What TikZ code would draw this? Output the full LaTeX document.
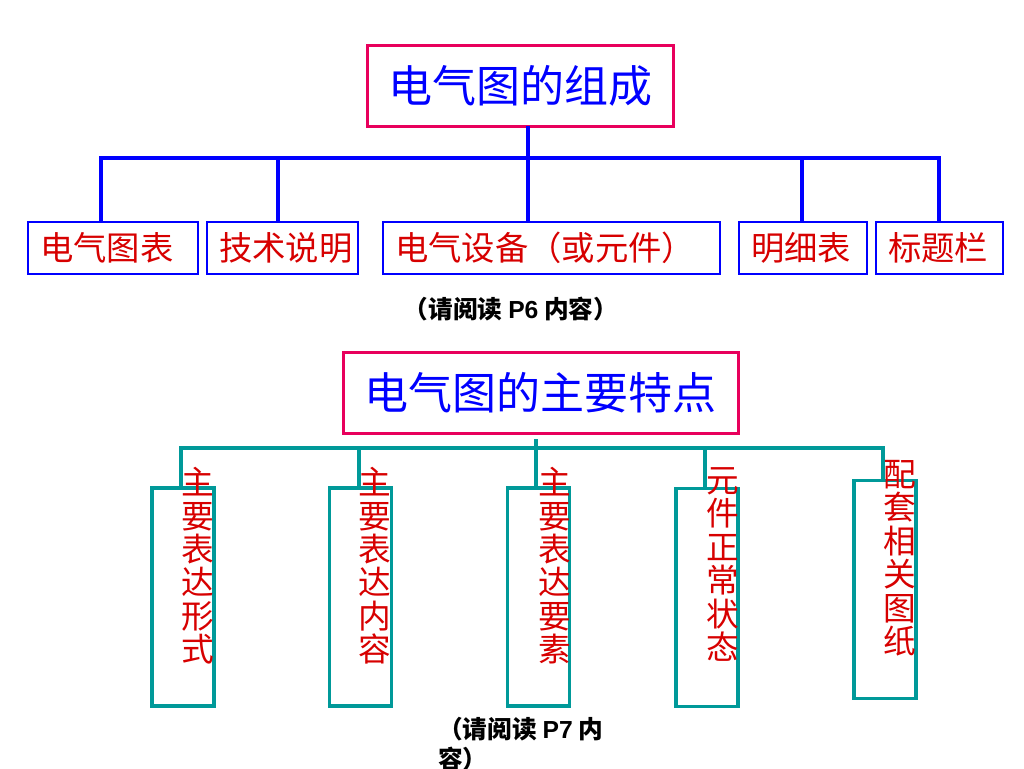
\documentclass[tikz,border=0pt]{standalone}
\usepackage{fontspec}
\setmainfont{Noto Sans CJK SC}
\newfontfamily\latin{Liberation Sans}
\definecolor{headpink}{RGB}{232,0,92}
\definecolor{lineblue}{RGB}{0,0,255}
\definecolor{itemred}{RGB}{215,0,0}
\definecolor{lineteal}{RGB}{0,153,153}
\tikzset{
  headbox/.style={draw=headpink,line width=2.25pt,inner sep=0pt,outer sep=0pt,minimum width=#1,minimum height=60.75pt,text=lineblue,font=\fontsize{33}{36}\selectfont},
  itembox/.style={draw=lineblue,line width=1.5pt,inner xsep=9pt,inner ysep=0pt,outer sep=0pt,minimum height=39pt,text width=#1,align=left,text=itemred,font=\fontsize{25}{28}\selectfont},
  tallbox/.style={draw=lineteal,line width=2.4pt,inner sep=0pt,outer sep=0pt,minimum width=46.5pt,minimum height=163.5pt},
  tallword/.style={anchor=north,inner sep=0pt,align=center,text=itemred,font=\fontsize{24.5}{25.1}\selectfont},
  bluebar/.style={draw=lineblue,line width=3pt},
  tealbar/.style={draw=lineteal,line width=2.4pt},
  note/.style={inner sep=0pt,font=\fontsize{18.5}{22.5}\selectfont\bfseries}
}
\begin{document}
\begin{tikzpicture}[x=0.75pt,y=-0.75pt]
  \useasboundingbox[fill=white] (0,0) rectangle (1024,768);
  \node[headbox=229.5pt] (t1) at (520,85.5) {电气图的组成};
  \node[itembox=109.5pt] (b1) at (113,248) {电气图表};
  \node[itembox=95.25pt] (b2) at (282.5,248) {技术说明};
  \node[itembox=234.75pt] (b3) at (551.5,248) {电气设备（或元件）};
  \node[itembox=78pt] (b4) at (803,248) {明细表};
  \node[itembox=77.25pt] (b5) at (939.5,248) {标题栏};
  \coordinate (top) at (528,158);
  \coordinate (d1) at (101,158);
  \coordinate (d2) at (278,158);
  \coordinate (d3) at (528,158);
  \coordinate (d4) at (802,158);
  \coordinate (d5) at (939,158);
  \draw[bluebar] (top |- t1.south) -- (top);
  \draw[bluebar] (d1 |- b1.north) |- (d5) -- (d5 |- b5.north);
  \foreach \i in {2,3,4}
    \draw[bluebar] (d\i) -- (d\i |- b\i.north);
  \node[note] (n1) at (511,309) {（请阅读 {\latin P6} 内容）};
  \node[headbox=296.25pt] (t2) at (540.5,392.5) {电气图的主要特点};
  \node[tallbox] (c1) at (183,597) {};
  \node[tallbox] (c2) at (360.5,597) {};
  \node[tallbox] (c3) at (538.5,597) {};
  \node[tallbox] (c4) at (707,597.5) {};
  \node[tallbox] (c5) at (885,589.5) {};
  \coordinate (gap) at (536,439);
  \coordinate (e1) at (181,448);
  \coordinate (e2) at (359,448);
  \coordinate (e3) at (536,448);
  \coordinate (e4) at (705,448);
  \coordinate (e5) at (883,448);
  \draw[tealbar] (gap) -- (e3);
  \draw[tealbar] (e1 |- c1.north) |- (e5) -- (e5 |- c5.north);
  \foreach \i in {2,3,4}
    \draw[tealbar] (e\i) -- (e\i |- c\i.north);
  \node[tallword] (l1) at (198,467) {主\\要\\表\\达\\形\\式};
  \node[tallword] (l2) at (375,467) {主\\要\\表\\达\\内\\容};
  \node[tallword] (l3) at (555,467) {主\\要\\表\\达\\要\\素};
  \node[tallword] (l4) at (723,467) {元\\件\\正\\常\\状\\态};
  \node[tallword] (l5) at (900,460) {配\\套\\相\\关\\图\\纸};
  \node[note,anchor=north west,align=left] (n2) at (438,717) {（请阅读 {\latin P7} 内\\容）};
\end{tikzpicture}
\end{document}
